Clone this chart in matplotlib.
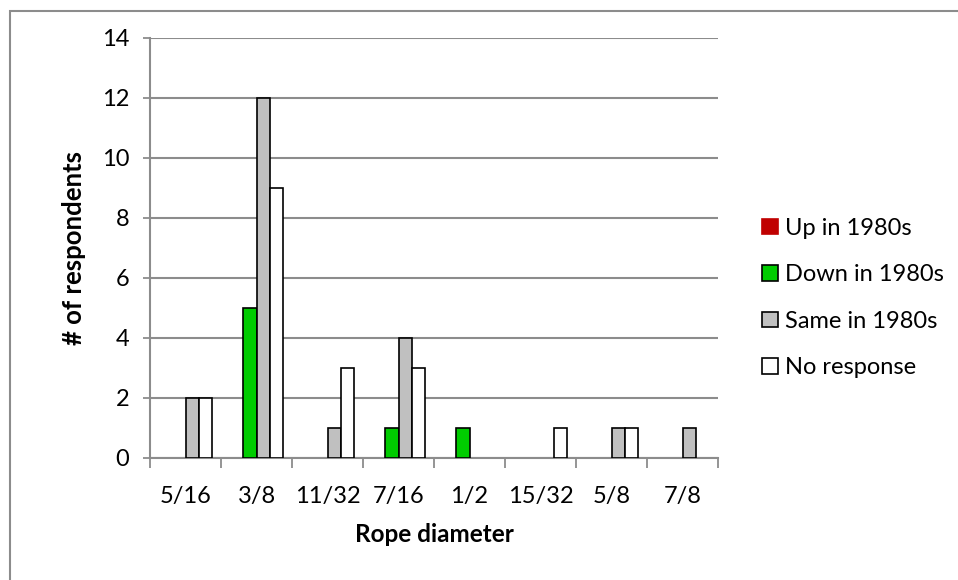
# Rope diameter survey - clustered column chart

import numpy as np
import matplotlib
matplotlib.use("Agg")
import matplotlib.pyplot as plt
from matplotlib.patches import Rectangle, Patch

plt.rcParams['font.family'] = ['Lato', 'DejaVu Sans']

categories = ["5/16", "3/8", "11/32", "7/16", "1/2", "15/32", "5/8", "7/8"]
up_1980s = [0, 0, 0, 0, 0, 0, 0, 0]
down_1980s = [0, 5, 0, 1, 1, 0, 0, 0]
same_1980s = [2, 12, 1, 4, 0, 0, 1, 1]
no_response = [2, 9, 3, 3, 0, 1, 1, 0]

series = [("Up in 1980s", up_1980s, "#C00000"),
          ("Down in 1980s", down_1980s, "#00CC00"),
          ("Same in 1980s", same_1980s, "#C0C0C0"),
          ("No response", no_response, "#FFFFFF")]

fs = 17

fig = plt.figure(figsize=(9.58, 5.8), dpi=100)
ax = fig.add_axes([150/958, 1-458/580, 568/958, 420/580])

# outer chart border (only top/left visible in the reference)
fig.patches.append(Rectangle((9.5/958, -0.2), 1.2, 1.2 - 10.5/580,
                             transform=fig.transFigure, fill=False,
                             edgecolor="#8c8c8c", linewidth=1.5, zorder=0))

x = np.arange(len(categories))
w = 0.1875
for i, (name, vals, col) in enumerate(series):
    lw = [1.2 if v > 0 else 0 for v in vals]
    ax.bar(x + (i - 1.5) * w, vals, width=w, align="center", color=col,
           edgecolor="black", linewidth=lw, zorder=3)

ax.set_xlim(-0.5, len(categories) - 0.5)
ax.set_ylim(0, 14)
ax.set_yticks(range(0, 15, 2))
ax.set_xticks(x)
ax.set_xticklabels(categories, fontsize=fs)
ax.set_xticks(np.arange(-0.5, len(categories), 1), minor=True)
ax.tick_params(axis="x", which="major", length=0, pad=20)
ax.tick_params(axis="x", which="minor", length=7, width=1.3, color="#8c8c8c")
ax.tick_params(axis="y", labelsize=fs, length=5, width=1.3, color="#8c8c8c", pad=10)

ax.grid(axis="y", color="#8c8c8c", linewidth=1.5, zorder=0)
ax.set_axisbelow(True)
for s in ["top", "right"]:
    ax.spines[s].set_visible(False)
ax.spines["left"].set_color("#8c8c8c")
ax.spines["bottom"].set_color("#8c8c8c")
ax.spines["left"].set_linewidth(1.5)
ax.spines["bottom"].set_linewidth(1.5)

ax.set_xlabel("Rope diameter", fontsize=17.5, fontweight="bold", labelpad=12)
ax.set_ylabel("# of respondents", fontsize=18.5, fontweight="bold", labelpad=11)

handles = [Patch(facecolor=col, edgecolor=("black" if i > 0 else col), linewidth=1.2,
                 label=name) for i, (name, vals, col) in enumerate(series)]
fig.legend(handles=handles, loc="center left", bbox_to_anchor=(741/958, 1-298/580),
           frameon=False, fontsize=fs, handlelength=0.65, handleheight=0.65,
           handletextpad=0.3, labelspacing=1.08)

fig.savefig("out.png", dpi=100)
